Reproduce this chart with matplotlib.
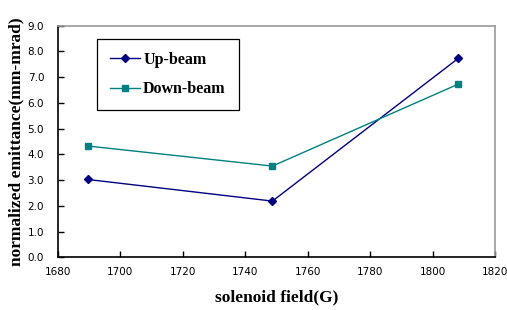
import matplotlib
matplotlib.use("Agg")
import matplotlib.pyplot as plt

field = [1689.5, 1748.7, 1808.2]
up_beam = [3.03, 2.19, 7.73]
down_beam = [4.33, 3.55, 6.73]
xticks = [1680, 1700, 1720, 1740, 1760, 1780, 1800, 1820]
yticks = [0, 1, 2, 3, 4, 5, 6, 7, 8, 9]

fig = plt.figure(figsize=(5.07, 3.10), dpi=100)
ax = fig.add_axes([0.1144, 0.1694, 0.8619, 0.7476])

ax.plot(field, up_beam, color="#000080", marker="D", markersize=4.5, linewidth=1.0, label="Up-beam")
ax.plot(field, down_beam, color="#008080", marker="s", markersize=4.5, linewidth=1.0, label="Down-beam")

ax.set_xlim(1680, 1820)
ax.set_ylim(0, 9)
ax.set_xticks(xticks)
ax.set_yticks(yticks)
ax.set_yticklabels([f"{v:.1f}" for v in yticks])
ax.tick_params(direction="in", length=4, width=1, labelsize=7.5)
ax.tick_params(axis="x", pad=7)
ax.tick_params(axis="y", pad=10)

for s in ["left", "bottom"]:
    ax.spines[s].set_color("black")
    ax.spines[s].set_linewidth(1.2)
for s in ["top", "right"]:
    ax.spines[s].set_color("#999999")
    ax.spines[s].set_linewidth(1.2)

serif = {"family": "Liberation Serif", "weight": "bold"}
ax.set_xlabel("solenoid field(G)", fontdict={**serif, "size": 12.5}, labelpad=9)
ax.set_ylabel("normalized emittance(mm-mrad)", fontdict={**serif, "size": 12.5}, labelpad=2)

leg = ax.legend(loc="upper left", bbox_to_anchor=(0.089, 0.943), borderaxespad=0,
                prop={"family": "Liberation Serif", "weight": "bold", "size": 11.5},
                frameon=True, fancybox=False, edgecolor="black", framealpha=1,
                handlelength=1.9, labelspacing=0.85, borderpad=0.8, handletextpad=0.2)
leg.get_frame().set_linewidth(0.9)

fig.savefig("out.png", dpi=100)
